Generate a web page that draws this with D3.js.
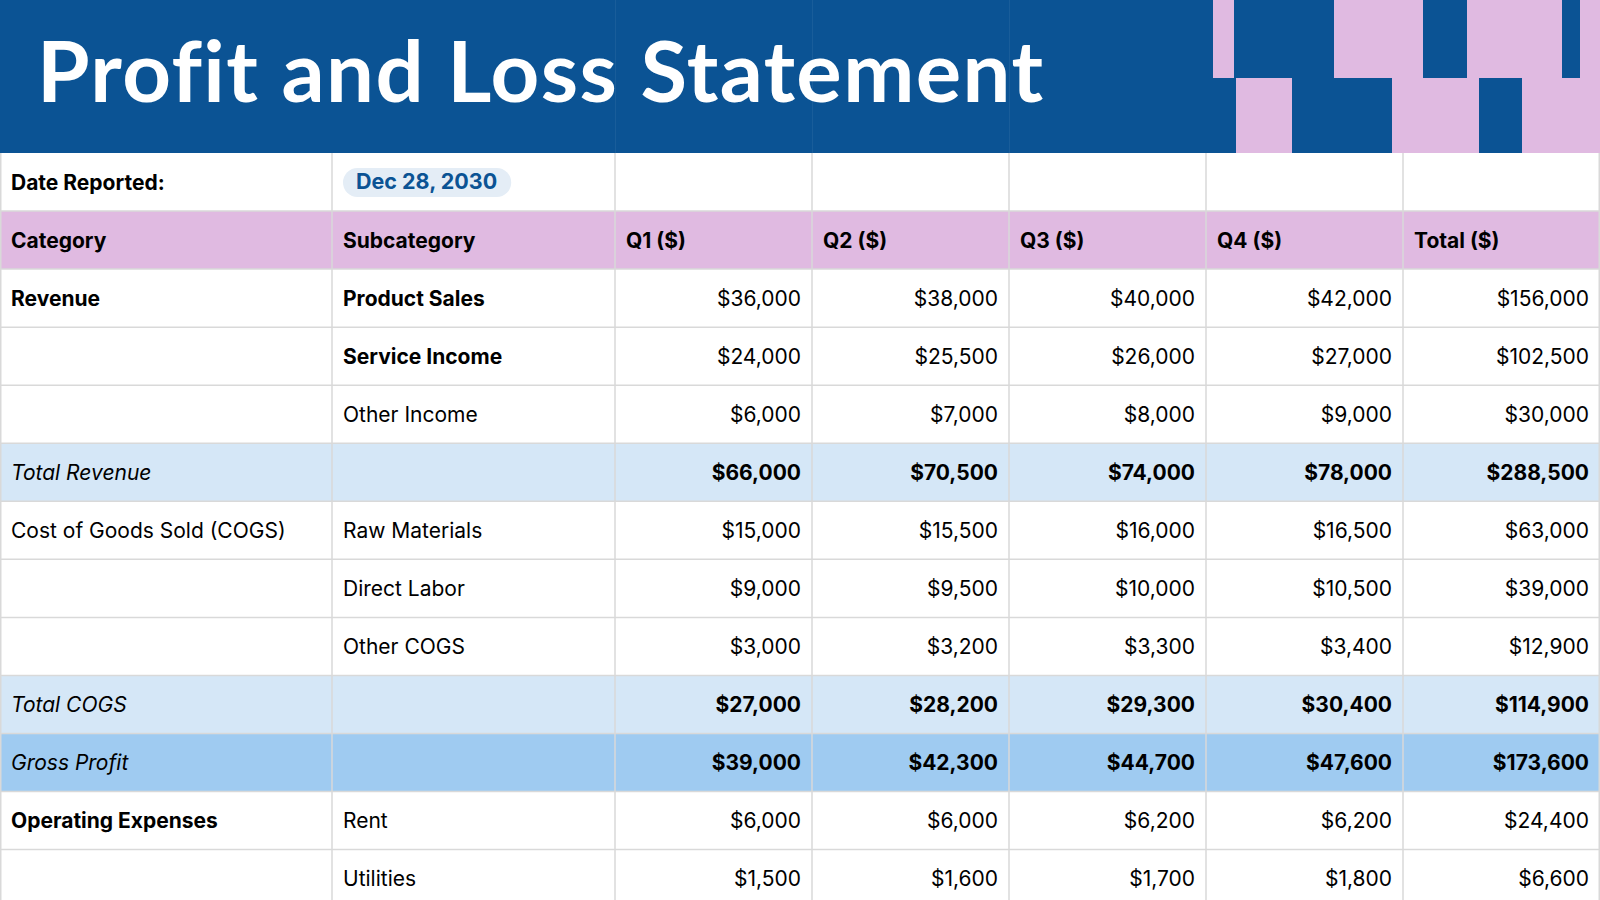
<!DOCTYPE html>
<html>
<head>
<meta charset="utf-8">
<script src="https://cdn.jsdelivr.net/npm/d3@7"></script>
<style>
  html, body { margin: 0; padding: 0; background: #ffffff; }
  svg { display: block; }
</style>
</head>
<body>
<svg id="chart" width="1600" height="900"></svg>
<script>
// ---------------- DATA ----------------
const title = "Profit and Loss Statement";
const dateLabel = "Date Reported:";
const dateValue = "Dec 28, 2030";
const headers = ["Category", "Subcategory", "Q1 ($)", "Q2 ($)", "Q3 ($)", "Q4 ($)", "Total ($)"];
const categories = ["Revenue", "", "", "Total Revenue", "Cost of Goods Sold (COGS)", "", "", "Total COGS", "Gross Profit", "Operating Expenses", ""];
const subcategories = ["Product Sales", "Service Income", "Other Income", "", "Raw Materials", "Direct Labor", "Other COGS", "", "", "Rent", "Utilities"];
const q1 = [36000, 24000, 6000, 66000, 15000, 9000, 3000, 27000, 39000, 6000, 1500];
const q2 = [38000, 25500, 7000, 70500, 15500, 9500, 3200, 28200, 42300, 6000, 1600];
const q3 = [40000, 26000, 8000, 74000, 16000, 10000, 3300, 29300, 44700, 6200, 1700];
const q4 = [42000, 27000, 9000, 78000, 16500, 10500, 3400, 30400, 47600, 6200, 1800];
const totals = [156000, 102500, 30000, 288500, 63000, 39000, 12900, 114900, 173600, 24400, 6600];
// row kinds: "normal", "total", "gross"
const rowKinds = ["normal", "normal", "normal", "total", "normal", "normal", "normal", "total", "gross", "normal", "normal"];
const boldCategory = [true, false, false, false, false, false, false, false, false, true, false];
const boldSubcategory = [true, true, false, false, false, false, false, false, false, false, false];

// ---------------- LAYOUT / STYLE ----------------
const W = 1600, H = 900;
const colEdges = [0, 332, 615, 812, 1009, 1206, 1403, 1600];
const headerH = 153;
const rowH = 58.05;
const pad = 11;
const C = {
  blue: "#0b5394",
  pink: "#e0bae1",
  lightBlue: "#d5e7f7",
  midBlue: "#9fcbf1",
  grid: "#d9d9d9",
  text: "#000000",
  pill: "#e4edf6"
};
// decorative header blocks (x0, x1) per band
const decoTop = [[1180, 1213, "blue"], [1213, 1234, "pink"], [1234, 1334, "blue"], [1334, 1423, "pink"], [1423, 1467, "blue"], [1467, 1562, "pink"], [1562, 1580, "blue"], [1580, 1600, "pink"]];
const decoBottom = [[1180, 1236, "blue"], [1236, 1292, "pink"], [1292, 1392, "blue"], [1392, 1479, "pink"], [1479, 1522, "blue"], [1522, 1600, "pink"]];
const decoSplit = 78;

const fmt = d3.format("$,.0f");
const svg = d3.select("#chart");
const bodyFont = "Inter, 'Noto Sans', sans-serif";

// row scale: index 0 = date row, 1 = header row, 2.. = data rows
const y = d3.scaleLinear().domain([0, 1]).range([headerH, headerH + rowH]);
const x = i => colEdges[i];
const baseOff = rowH / 2 + 7.5;

// ---------- Title band ----------
svg.append("rect").attr("x", 0).attr("y", 0).attr("width", W).attr("height", headerH).attr("fill", C.blue);
// faint column lines in header
[2, 3, 4].forEach(i => {
  svg.append("line").attr("x1", colEdges[i] + 0.5).attr("x2", colEdges[i] + 0.5)
    .attr("y1", 0).attr("y2", headerH).attr("stroke", "#ffffff").attr("stroke-opacity", 0.06).attr("stroke-width", 1);
});
// decoration
const deco = svg.append("g");
decoTop.forEach(d => deco.append("rect").attr("x", d[0]).attr("y", 0).attr("width", d[1] - d[0]).attr("height", decoSplit).attr("fill", C[d[2]]));
decoBottom.forEach(d => deco.append("rect").attr("x", d[0]).attr("y", decoSplit).attr("width", d[1] - d[0]).attr("height", headerH - decoSplit).attr("fill", C[d[2]]));

const titleText = svg.append("text")
  .attr("x", 37).attr("y", 102)
  .attr("fill", "#ffffff")
  .attr("font-family", "Lato, 'Open Sans', sans-serif")
  .attr("font-weight", 700)
  .attr("font-size", 85)
  .style("font-variant-ligatures", "none")
  .style("font-kerning", "normal")
  .text(title);
{
  const len = titleText.node().getComputedTextLength();
  const target = 1046 - 40;
  const ls = (target - len) / (title.length - 1);
  titleText.attr("letter-spacing", ls);
}

// ---------- Row backgrounds ----------
const dataRows = d3.range(categories.length);
function rowFill(k) { return k === "total" ? C.lightBlue : k === "gross" ? C.midBlue : "#ffffff"; }

svg.append("rect").attr("x", 0).attr("y", y(1)).attr("width", W).attr("height", rowH).attr("fill", C.pink);
svg.selectAll("rect.rowbg").data(dataRows).enter().append("rect")
  .attr("class", "rowbg")
  .attr("x", 0).attr("y", i => y(i + 2)).attr("width", W).attr("height", rowH)
  .attr("fill", i => rowFill(rowKinds[i]));

// ---------- Grid lines ----------
const grid = svg.append("g").attr("stroke", C.grid).attr("stroke-width", 1.5);
d3.range(1, 14).forEach(r => {
  grid.append("line").attr("x1", 0).attr("x2", W).attr("y1", y(r)).attr("y2", y(r));
});
colEdges.forEach((cx, i) => {
  const xx = i === 0 ? 0.75 : (i === colEdges.length - 1 ? W - 0.75 : cx);
  grid.append("line").attr("x1", xx).attr("x2", xx).attr("y1", headerH).attr("y2", H);
});

// ---------- Date row ----------
svg.append("text").attr("x", x(0) + pad).attr("y", y(0) + baseOff)
  .attr("font-family", bodyFont).attr("font-size", 21).attr("font-weight", 700).attr("fill", C.text)
  .text(dateLabel);
const pillG = svg.append("g");
const pillText = pillG.append("text").attr("x", 356).attr("y", y(0) + baseOff - 0.5)
  .attr("font-family", bodyFont).attr("font-size", 21.5).attr("font-weight", 700).attr("fill", C.blue)
  .text(dateValue);
{
  const len = pillText.node().getComputedTextLength();
  pillG.insert("rect", "text").attr("x", 343).attr("y", 168).attr("width", len + 27).attr("height", 29)
    .attr("rx", 14.5).attr("fill", C.pill);
}

// ---------- Header row ----------
svg.selectAll("text.hdr").data(headers).enter().append("text")
  .attr("class", "hdr")
  .attr("x", (d, i) => x(i) + pad).attr("y", y(1) + baseOff)
  .attr("font-family", bodyFont).attr("font-size", 21).attr("font-weight", 700).attr("fill", C.text)
  .text(d => d);

// ---------- Data rows ----------
const isTot = k => k === "total" || k === "gross";
svg.selectAll("text.cat").data(dataRows).enter().append("text")
  .attr("class", "cat")
  .attr("x", x(0) + pad).attr("y", i => y(i + 2) + baseOff)
  .attr("font-family", bodyFont).attr("font-size", 21)
  .attr("font-weight", i => boldCategory[i] ? 700 : 400)
  .attr("font-style", i => isTot(rowKinds[i]) ? "italic" : "normal")
  .attr("fill", C.text)
  .text(i => categories[i]);

svg.selectAll("text.sub").data(dataRows).enter().append("text")
  .attr("class", "sub")
  .attr("x", x(1) + pad).attr("y", i => y(i + 2) + baseOff)
  .attr("font-family", bodyFont).attr("font-size", 21)
  .attr("font-weight", i => boldSubcategory[i] ? 700 : 400)
  .attr("fill", C.text)
  .text(i => subcategories[i]);

const valueCols = [q1, q2, q3, q4, totals];
valueCols.forEach((col, ci) => {
  svg.selectAll("text.v" + ci).data(col).enter().append("text")
    .attr("class", "v" + ci)
    .attr("x", x(ci + 3) - pad).attr("y", (d, i) => y(i + 2) + baseOff)
    .attr("text-anchor", "end")
    .attr("font-family", bodyFont).attr("font-size", 21)
    .attr("font-weight", (d, i) => isTot(rowKinds[i]) ? 700 : 400)
    .attr("fill", C.text)
    .text(d => fmt(d));
});
</script>
</body>
</html>
